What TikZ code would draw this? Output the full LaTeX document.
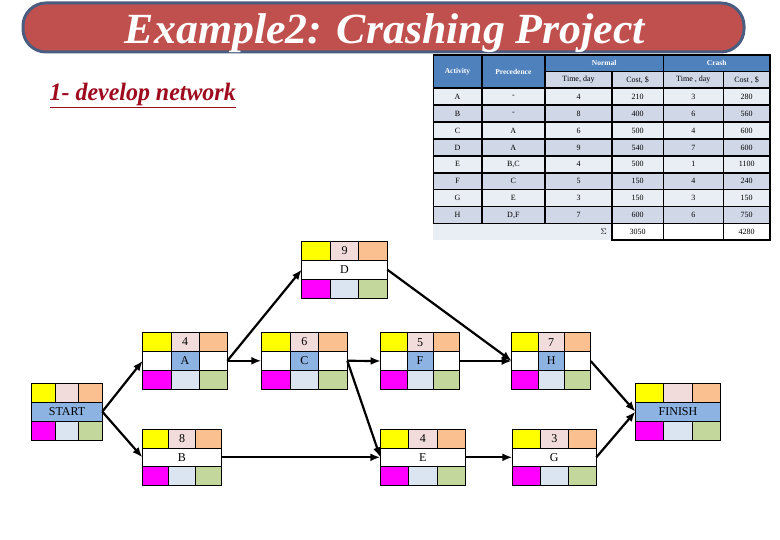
\documentclass[tikz,border=0pt]{standalone}
\usepackage{fontspec}
\usepackage{graphicx}
\setmainfont{Liberation Serif}
\usetikzlibrary{arrows.meta}
\definecolor{ttlred}{HTML}{C0504D}
\definecolor{ttlborder}{HTML}{4A5D80}
\definecolor{hdrblue}{HTML}{4F81BD}
\definecolor{rowdark}{HTML}{D0D8E8}
\definecolor{rowlight}{HTML}{E9EDF4}
\definecolor{cyel}{HTML}{FFFF00}
\definecolor{cpink}{HTML}{F2DCDB}
\definecolor{cpeach}{HTML}{FAC090}
\definecolor{cmag}{HTML}{FF00FF}
\definecolor{cltblue}{HTML}{DBE5F1}
\definecolor{cgreen}{HTML}{C3D69B}
\definecolor{cmidblue}{HTML}{8DB3E2}
\definecolor{subred}{HTML}{9E0A1E}
\tikzset{
  actframe/.style={draw=none, inner sep=0pt, outer sep=0pt},
  cellline/.style={draw=black, line width=0.8pt},
  celltext/.style={inner sep=0pt, font=\fontsize{12}{12}\selectfont},
  arr/.style={line width=2.2pt, -{Latex[length=10pt,width=8pt]}},
  tabline/.style={draw=black, line width=1.6pt},
  tabtext/.style={inner sep=0pt, font=\fontsize{8}{9}\selectfont},
  hdrtext/.style={inner sep=0pt, text=white, font=\fontsize{7.5}{9}\selectfont\bfseries},
}
% name, x, y, w, h, duration, label, type (0 white middle, 1 split blue middle, 2 full blue middle)
\newcommand\actbox[8]{%
  \pgfmathsetmacro\cw{#4/3}\pgfmathsetmacro\rh{#5/3}%
  \pgfmathsetmacro\xa{#2+\cw}\pgfmathsetmacro\xb{#2+2*\cw}\pgfmathsetmacro\xc{#2+#4}%
  \pgfmathsetmacro\ya{#3+\rh}\pgfmathsetmacro\yb{#3+2*\rh}\pgfmathsetmacro\yc{#3+#5}%
  \pgfmathsetmacro\xm{#2+#4/2}\pgfmathsetmacro\ym{#3+#5/2}\pgfmathsetmacro\yt{#3+#5/6}%
  \node[actframe, minimum width=#4pt, minimum height=#5pt, anchor=north west] (#1) at (#2,#3) {};
  \filldraw[cellline, fill=cyel] (#2,#3) rectangle (\xa,\ya);
  \filldraw[cellline, fill=cpink] (\xa,#3) rectangle (\xb,\ya);
  \filldraw[cellline, fill=cpeach] (\xb,#3) rectangle (\xc,\ya);
  \ifcase#8
    \filldraw[cellline, fill=white] (#2,\ya) rectangle (\xc,\yb);
  \or
    \filldraw[cellline, fill=white] (#2,\ya) rectangle (\xa,\yb);
    \filldraw[cellline, fill=cmidblue] (\xa,\ya) rectangle (\xb,\yb);
    \filldraw[cellline, fill=white] (\xb,\ya) rectangle (\xc,\yb);
  \or
    \filldraw[cellline, fill=cmidblue] (#2,\ya) rectangle (\xc,\yb);
  \fi
  \filldraw[cellline, fill=cmag] (#2,\yb) rectangle (\xa,\yc);
  \filldraw[cellline, fill=cltblue] (\xa,\yb) rectangle (\xb,\yc);
  \filldraw[cellline, fill=cgreen] (\xb,\yb) rectangle (\xc,\yc);
  \node[celltext] (#1-dur) at (\xm,\yt) {#6};
  \node[celltext] (#1-lab) at (\xm,\ym) {#7};
}
% table row: index, y-top, activity, precedence, ntime, ncost, ctime, ccost, fill
\newcommand\trow[9]{%
  \pgfmathsetmacro\ty{#2+8.45}%
  \fill[#9] (433.3,#2) rectangle (770,#2+16.9);
  \node[tabtext] (r#1a) at (457.5,\ty) {#3};
  \node[tabtext] (r#1p) at (513.35,\ty) {#4};
  \node[tabtext] (r#1nt) at (578.5,\ty) {#5};
  \node[tabtext] (r#1nc) at (637.65,\ty) {#6};
  \node[tabtext] (r#1ct) at (693.3,\ty) {#7};
  \node[tabtext] (r#1cc) at (746.65,\ty) {#8};
}
\begin{document}
\begin{tikzpicture}[x=1pt,y=-1pt]
\useasboundingbox (0,0) rectangle (780,540);
\fill[white] (0,0) rectangle (780,540);

% title banner
\node[draw=ttlborder, line width=3pt, fill=ttlred, rounded corners=23pt,
      minimum width=721pt, minimum height=49pt, inner sep=0pt] (title) at (383.5,27.5) {};
\node[anchor=base, inner sep=0pt, text=white,
      font=\fontsize{43}{43}\selectfont\bfseries\itshape] (titletext) at (385,43.3)
      {\resizebox{520pt}{\height}{Example2: Crashing Project}};

% subtitle
\node[anchor=base west, inner sep=0pt, text=subred,
      font=\fontsize{25}{25}\selectfont\bfseries\itshape] (sub) at (49.5,100.5)
      {\resizebox{186pt}{\height}{\underline{1- develop network}}};

% ---------- table ----------
\fill[hdrblue] (433.3,55) rectangle (770,88.3);
\fill[rowdark] (545,71.7) rectangle (770,88.3);
\trow{1}{88.3}{A}{-}{4}{210}{3}{280}{rowlight}
\trow{2}{105.2}{B}{-}{8}{400}{6}{560}{rowdark}
\trow{3}{122.1}{C}{A}{6}{500}{4}{600}{rowlight}
\trow{4}{139.0}{D}{A}{9}{540}{7}{600}{rowdark}
\trow{5}{155.9}{E}{B,C}{4}{500}{1}{1100}{rowlight}
\trow{6}{172.8}{F}{C}{5}{150}{4}{240}{rowdark}
\trow{7}{189.7}{G}{E}{3}{150}{3}{150}{rowlight}
\trow{8}{206.6}{H}{D,F}{7}{600}{6}{750}{rowdark}
\fill[rowlight] (433.3,223.5) rectangle (612,240);
\fill[white] (612,223.5) rectangle (770,240);
% grid
\draw[tabline] (433.3,55) rectangle (770,223.5);
\foreach \cx in {481.7,545,663.3} \draw[tabline] (\cx,55) -- (\cx,223.5);
\foreach \cx in {612,723.3} \draw[tabline] (\cx,71.7) -- (\cx,223.5);
\draw[tabline] (545,71.7) -- (770,71.7);
\foreach \ry in {88.3,105.2,122.1,139.0,155.9,172.8,189.7,206.6} \draw[tabline] (433.3,\ry) -- (770,\ry);
\draw[tabline] (612,223.5) rectangle (770,240);
\draw[tabline] (663.3,223.5) -- (663.3,240);
\draw[tabline] (723.3,223.5) -- (723.3,240);
% header texts
\node[hdrtext] (hact) at (457.5,71.7) {Activity};
\node[hdrtext] (hpre) at (513.35,71.7) {Precedence};
\node[hdrtext] (hnor) at (604.15,63.3) {Normal};
\node[hdrtext] (hcra) at (716.65,63.3) {Crash};
\node[tabtext] (hnt) at (578.5,80) {Time, day};
\node[tabtext] (hnc) at (637.65,80) {Cost, \$};
\node[tabtext] (hct) at (693.3,80) {Time , day};
\node[tabtext] (hcc) at (746.65,80) {Cost , \$};
\node[tabtext, anchor=east] (sig) at (607,231.75) {$\Sigma$};
\node[tabtext] (tot1) at (637.65,231.75) {3050};
\node[tabtext] (tot2) at (746.65,231.75) {4280};

% ---------- network ----------
\actbox{START}{31.7}{383.3}{70.6}{56.7}{}{START}{2}
\actbox{A}{142.7}{332.3}{84.6}{57}{4}{A}{1}
\actbox{B}{142.3}{429.3}{79.4}{56}{8}{B}{0}
\actbox{C}{261.3}{332.3}{86}{57}{6}{C}{1}
\actbox{D}{301.7}{241}{85.6}{57.3}{9}{D}{0}
\actbox{F}{380.7}{332.7}{78.6}{56.6}{5}{F}{1}
\actbox{E}{380.3}{429.3}{85}{56}{4}{E}{0}
\actbox{H}{511.7}{332.7}{79}{56.6}{7}{H}{1}
\actbox{G}{512.3}{429.3}{84}{56}{3}{G}{0}
\actbox{FINISH}{635.3}{383.3}{85.4}{56.7}{}{FINISH}{2}

\draw[arr] (START.east) -- (A.west);
\draw[arr] (START.east) -- (B.west);
\draw[arr] (A.east) -- (D.west);
\draw[arr] (A.east) -- (C.west);
\draw[arr] (C.east) -- (F.west);
\draw[arr] (C.east) -- (E.west);
\draw[arr] (B.east) -- (E.west);
\draw[arr] (D.east) -- (H.west);
\draw[arr] (F.east) -- (H.west);
\draw[arr] (E.east) -- (G.west);
\draw[arr] (H.east) -- (FINISH.west);
\draw[arr] (G.east) -- (FINISH.west);
\end{tikzpicture}
\end{document}
